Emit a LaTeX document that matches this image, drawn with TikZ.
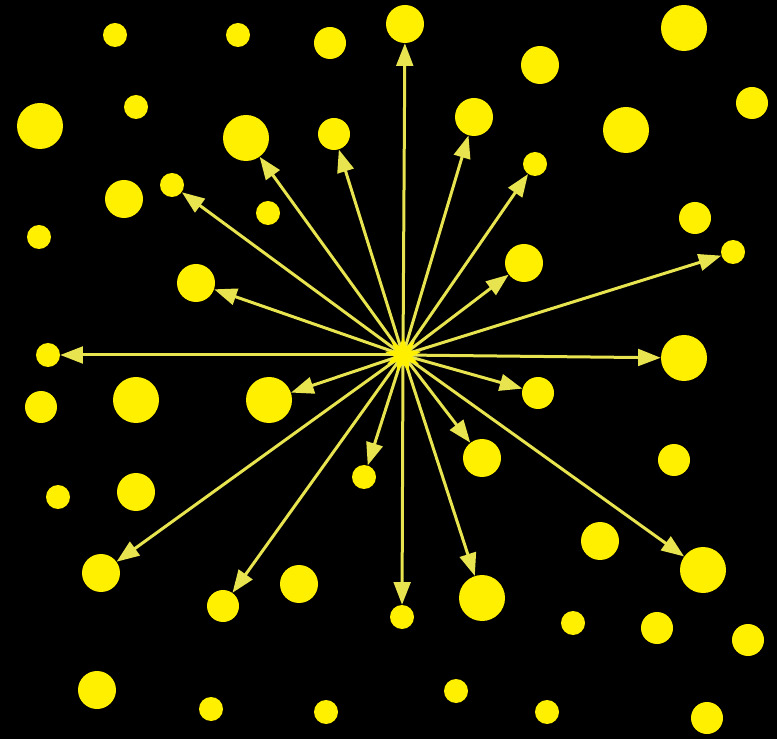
\documentclass[tikz,border=0pt]{standalone}
\usepackage{tikz}
\usetikzlibrary{arrows.meta,shapes.geometric}
\definecolor{dotyellow}{RGB}{255,240,0}
\definecolor{rayyellow}{RGB}{232,228,80}

\begin{document}
\begin{tikzpicture}[x=0.03cm,y=-0.03cm,
  dot/.style={circle,fill=dotyellow,inner sep=0pt},
  dotS/.style={dot,minimum size=0.72cm},
  dotM/.style={dot,minimum size=0.96cm},
  dotL/.style={dot,minimum size=1.14cm},
  dotXL/.style={dot,minimum size=1.38cm},
  ray/.style={-{Triangle[length=0.68cm,width=0.5cm]},line width=0.09cm,rayyellow},
  hub/.style={star,star points=9,star point ratio=2,fill=dotyellow,
              minimum size=1.1cm,inner sep=0pt}]
  % Background
  \fill[black] (0,0) rectangle (777,739);
  % Dots that no ray reaches
  \foreach \x/\y/\s [count=\i] in {115/35/S, 238/35/S, 330/43/M, 40/126/XL,
      136/107/S, 124/199/L, 268/213/S, 39/237/S, 540/65/L, 684/28/XL,
      752/103/M, 626/130/XL, 695/218/M, 41/407/M, 136/400/XL, 58/497/S,
      136/492/L, 299/584/L, 97/690/L, 211/709/S, 326/712/S, 674/460/M,
      600/541/L, 573/623/S, 657/628/M, 748/640/M, 456/691/S, 547/712/S,
      707/718/M}
    \node[dot\s] (far\i) at (\x,\y) {};
  % Dots hit by a ray
  \foreach \x/\y/\s [count=\i] in {405/24/L, 474/117/L, 535/164/S, 733/252/S,
      524/263/L, 684/358/XL, 538/393/M, 482/458/L, 703/570/XL, 482/598/XL,
      402/617/S, 364/477/S, 223/606/M, 101/573/L, 269/400/XL, 48/355/S,
      196/283/L, 172/185/S, 246/138/XL, 334/134/M}
    \node[dot\s] (hit\i) at (\x,\y) {};
  % Rays from the source
  \coordinate (src) at (403,355);
  \foreach \i in {1,...,20}
    \draw[ray] (src) -- (hit\i);
  \node[hub] (source) at (src) {};
\end{tikzpicture}
\end{document}
